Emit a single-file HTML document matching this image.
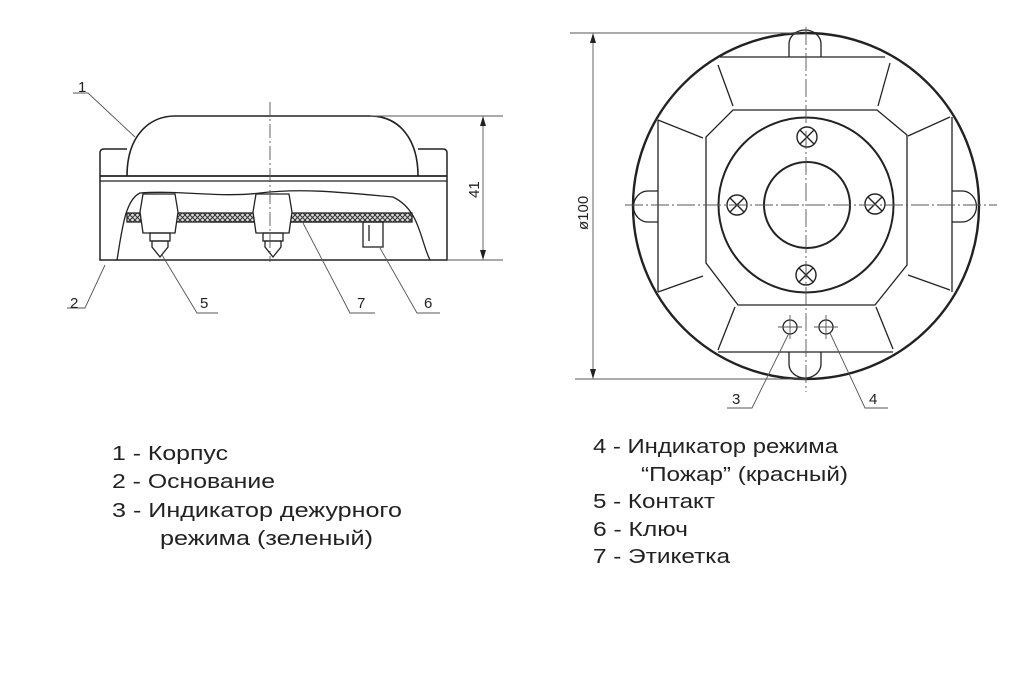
<!DOCTYPE html>
<html><head><meta charset="utf-8"><style>
html,body{margin:0;padding:0;background:#fff}
svg{display:block}
text{font-family:"Liberation Sans",sans-serif;fill:#222}
</style></head><body>
<svg width="1024" height="683" viewBox="0 0 1024 683" xmlns="http://www.w3.org/2000/svg">
<defs>
<pattern id="hx" width="5" height="5" patternUnits="userSpaceOnUse">
<rect width="5" height="5" fill="#ddd"/>
<path d="M0 0L5 5M5 0L0 5" stroke="#333" stroke-width="1"/>
</pattern>
</defs>
<g fill="none" stroke="#222" stroke-width="1.3">
<path d="M127 176 C127 135 150 116 175 116 L370 116 C400 116 418 140 418 176" stroke-width="1.6"/>
<path d="M127 149 L104 149 Q100 149 100 153 L100 260 L447 260 L447 153 Q447 149 443 149 L418 149" stroke-width="1.5"/>
<line x1="100" y1="176" x2="447" y2="176" stroke-width="1.8"/>
<line x1="100" y1="181" x2="447" y2="181"/>
<path d="M117 260 C122 230 125 200 140 193 C180 190 220 198 260 193 C300 188 340 192 393 197 C420 210 420 240 430 260"/>
<rect x="127" y="213" width="285" height="9" fill="url(#hx)"/>
<line x1="210" y1="222" x2="330" y2="222"/>
<path d="M143 194 L175 194 L178 212 L175 233 L143 233 L140 212 Z" fill="#fff"/>
<path d="M256 194 L289 194 L292 212 L289 233 L256 233 L253 212 Z" fill="#fff"/>
<rect x="150" y="233" width="20" height="8"/>
<path d="M152 241 L168 241 L168 247 L160 257 L152 247 Z"/>
<rect x="263" y="233" width="20" height="8"/>
<path d="M265 241 L281 241 L281 247 L273 257 L265 247 Z"/>
<rect x="363" y="222" width="20" height="25"/>
<line x1="369" y1="225" x2="369" y2="241"/>
</g>
<g fill="none" stroke="#555" stroke-width="0.9">
<line x1="270" y1="102" x2="270" y2="262" stroke-dasharray="14 3 2 3"/>
<line x1="370" y1="116" x2="503" y2="116"/>
<line x1="447" y1="260" x2="503" y2="260"/>
<line x1="483" y1="118" x2="483" y2="258"/>
<polyline points="73,93 88,93 135,137"/>
<polyline points="67,308 85,308 105,265"/>
<polyline points="218,313 197,313 162,255"/>
<polyline points="375,313 350,313 303,223"/>
<polyline points="440,313 417,313 380,248"/>
</g>
<path d="M483 116 L480 126 L486 126Z M483 260 L480 250 L486 250Z" fill="#222"/>
<text x="78" y="92" font-size="15">1</text>
<text x="70" y="308" font-size="15">2</text>
<text x="200" y="308" font-size="15">5</text>
<text x="357" y="308" font-size="15">7</text>
<text x="424" y="308" font-size="15">6</text>
<text x="0" y="0" font-size="15" transform="translate(479,198) rotate(-90)">41</text>

<g fill="none" stroke="#222" stroke-width="1.3">
<circle cx="806" cy="206" r="173" stroke-width="2.4"/>
<line x1="720" y1="57" x2="885" y2="57"/>
<line x1="718" y1="352" x2="893" y2="352"/>
<line x1="658" y1="120" x2="658" y2="292"/>
<line x1="952" y1="117" x2="952" y2="292"/>
<polygon points="733,110 877,110 907,135 907,265 875,305 738,305 706,263 706,137"/>
<line x1="718" y1="65" x2="733" y2="106"/>
<line x1="890" y1="63" x2="878" y2="106"/>
<line x1="658" y1="120" x2="703" y2="138"/>
<line x1="950" y1="117" x2="908" y2="136"/>
<line x1="658" y1="292" x2="703" y2="276"/>
<line x1="950" y1="290" x2="908" y2="275"/>
<line x1="718" y1="350" x2="735" y2="307"/>
<line x1="893" y1="349" x2="876" y2="307"/>
<circle cx="806" cy="205" r="87.5" stroke-width="2"/>
<circle cx="807" cy="205" r="43" stroke-width="2"/>
<path d="M789 57 L789 44 A16 14 0 0 1 821 44 L821 57"/>
<path d="M789 352 L789 364 A16 14 0 0 0 821 364 L821 352"/>
<path d="M658 191 L648 191 A14 15 0 0 0 648 222 L658 222"/>
<path d="M952 191 L962 191 A14 15 0 0 1 962 222 L952 222"/>
<g stroke-width="1.4">
<circle cx="807" cy="137" r="10"/><path d="M800 130 L814 144 M814 130 L800 144"/>
<circle cx="737" cy="205" r="10"/><path d="M730 198 L744 212 M744 198 L730 212"/>
<circle cx="875" cy="204" r="10"/><path d="M868 197 L882 211 M882 197 L868 211"/>
<circle cx="806" cy="275" r="10"/><path d="M799 268 L813 282 M813 268 L799 282"/>
</g>
<circle cx="790" cy="327" r="7"/>
<circle cx="826" cy="327" r="7"/>
</g>
<g fill="none" stroke="#555" stroke-width="0.9">
<line x1="625" y1="205" x2="997" y2="205" stroke-dasharray="18 3 2 3"/>
<line x1="806" y1="27" x2="806" y2="392" stroke-dasharray="18 3 2 3"/>
<line x1="570" y1="33" x2="800" y2="33"/>
<line x1="575" y1="379" x2="806" y2="379"/>
<line x1="593" y1="35" x2="593" y2="377"/>
<line x1="778" y1="327" x2="802" y2="327"/><line x1="790" y1="315" x2="790" y2="339"/>
<line x1="814" y1="327" x2="838" y2="327"/><line x1="826" y1="315" x2="826" y2="339"/>
<polyline points="789,333 752,408 727,408"/>
<polyline points="830,333 865,408 888,408"/>
</g>
<path d="M593 33 L590 43 L596 43Z M593 379 L590 369 L596 369Z" fill="#222"/>
<text x="732" y="404" font-size="15">3</text>
<text x="869" y="404" font-size="15">4</text>
<text x="0" y="0" font-size="15" transform="translate(588,230) rotate(-90)">ø100</text>

<g font-size="20">
<text x="112" y="460" textLength="116" lengthAdjust="spacingAndGlyphs">1 - Корпус</text>
<text x="112" y="488" textLength="163" lengthAdjust="spacingAndGlyphs">2 - Основание</text>
<text x="112" y="517" textLength="290" lengthAdjust="spacingAndGlyphs">3 - Индикатор дежурного</text>
<text x="160" y="545" textLength="213" lengthAdjust="spacingAndGlyphs">режима (зеленый)</text>
<text x="593" y="453" textLength="245" lengthAdjust="spacingAndGlyphs">4 - Индикатор режима</text>
<text x="641" y="481" textLength="207" lengthAdjust="spacingAndGlyphs">“Пожар” (красный)</text>
<text x="593" y="508" textLength="122" lengthAdjust="spacingAndGlyphs">5 - Контакт</text>
<text x="593" y="536" textLength="95" lengthAdjust="spacingAndGlyphs">6 - Ключ</text>
<text x="593" y="563" textLength="137" lengthAdjust="spacingAndGlyphs">7 - Этикетка</text>
</g>
</svg>
</body></html>
